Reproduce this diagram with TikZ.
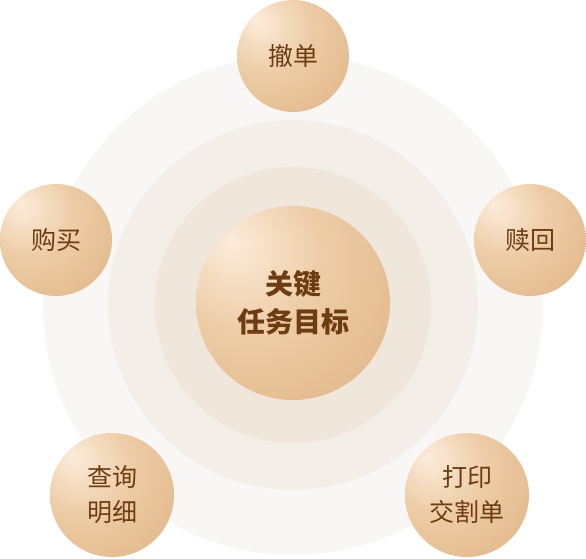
\documentclass[tikz,border=0pt]{standalone}
\usepackage{fontspec}
\newfontfamily\cjk{Noto Sans CJK SC}
\usepackage{tikz}
\usetikzlibrary{positioning}
\definecolor{ringout}{RGB}{249, 247, 245}
\definecolor{ringmid}{RGB}{244, 238, 232}
\definecolor{ringin}{RGB}{239, 230, 220}
\definecolor{bronze}{RGB}{110, 60, 18}
\definecolor{hilite}{RGB}{252, 236, 218}
\definecolor{skin}{RGB}{237, 204, 166}
\definecolor{tan}{RGB}{222, 176, 128}
\definecolor{rim}{RGB}{205, 150, 98}
\pgfdeclareradialshading{sphere}{\pgfpoint{-16bp}{16bp}}{%
  color(0bp)=(hilite); color(20bp)=(skin); color(50bp)=(tan);
  color(66bp)=(rim); color(80bp)=(rim)}

\begin{document}
\begin{tikzpicture}[
    x=1pt, y=-1pt,
    ball/.style={
      circle, shading=sphere, minimum size=112pt, inner sep=0pt,
      align=center, font=\cjk\fontsize{25}{35}\selectfont, text=bronze
    },
    bigball/.style={ball, minimum size=124pt},
    core/.style={
      ball, minimum size=194pt,
      font=\cjk\bfseries\fontsize{28}{38}\selectfont
    }
  ]
    \useasboundingbox (0,0) rectangle (586,558);

    % rings
    \fill[ringout] (293,305) circle (250);
    \fill[ringmid] (293,305) circle (185);
    \fill[ringin]  (293,305) circle (138);

    \node[core]    (goal)   at (293,303) {关键\\任务目标};
    \node[ball]    (cancel) at (293,56)  {撤单};
    \node[ball]    (buy)    at (56,240)  {购买};
    \node[ball]    (redeem) at (530,240) {赎回};
    \node[bigball] (query)  at (112,495) {查询\\明细};
    \node[bigball] (print)  at (467,495) {打印\\交割单};
  \end{tikzpicture}
\end{document}
